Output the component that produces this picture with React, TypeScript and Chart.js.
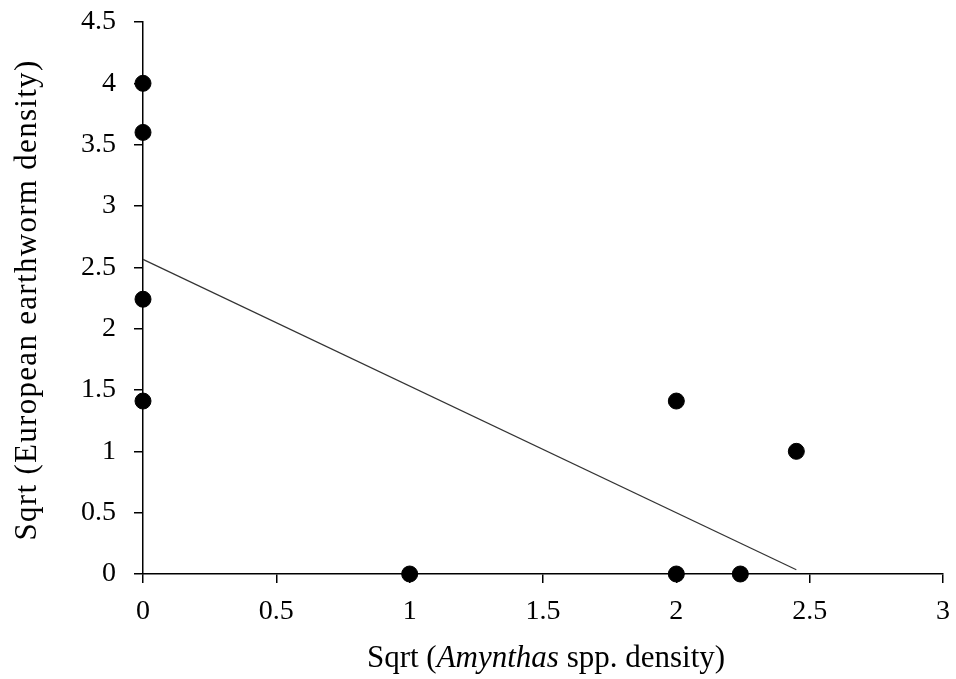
import React, { useEffect, useRef } from "react";
import { Chart, registerables } from "chart.js";

Chart.register(...registerables);

// Observed points: sqrt(Amynthas density) vs sqrt(European earthworm density)
const amynthasSqrt = [0, 0, 0, 0, 1, 2, 2.24, 2, 2.45];
const europeanSqrt = [4, 3.6, 2.24, 1.41, 0, 0, 0, 1.41, 1];

// Fitted regression line endpoints
const trendX = [0, 2.45];
const trendY = [2.565, 0.035];

const xTickLabels = ["0", "0.5", "1", "1.5", "2", "2.5", "3"];
const yTickLabels = ["0", "0.5", "1", "1.5", "2", "2.5", "3", "3.5", "4", "4.5"];

const xTitleParts = [
  { text: "Sqrt (", italic: false },
  { text: "Amynthas", italic: true },
  { text: " spp. density)", italic: false },
];
const yTitle = "Sqrt (European earthworm density)";

const FONT_FAMILY = "'Liberation Serif', 'Times New Roman', serif";
const FONT_SIZE = 28;
const TITLE_SIZE = 31;

const titlesPlugin = {
  id: "axisTitles",
  afterDraw(chart: any) {
    const ctx = chart.ctx;
    const area = chart.chartArea;
    ctx.save();
    ctx.fillStyle = "#000";
    ctx.textBaseline = "alphabetic";
    // x title with mixed italic
    const fonts = xTitleParts.map(
      (p) => `${p.italic ? "italic " : ""}${TITLE_SIZE}px ${FONT_FAMILY}`
    );
    let total = 0;
    const widths = xTitleParts.map((p, i) => {
      ctx.font = fonts[i];
      const w = ctx.measureText(p.text).width;
      total += w;
      return w;
    });
    let x = 546 - total / 2;
    const y = 667;
    xTitleParts.forEach((p, i) => {
      ctx.font = fonts[i];
      ctx.textAlign = "left";
      ctx.fillText(p.text, x, y);
      x += widths[i];
    });
    // y title rotated
    ctx.font = `${TITLE_SIZE}px ${FONT_FAMILY}`;
    try {
      (ctx as any).letterSpacing = "1.3px";
    } catch (e) {}
    ctx.translate(36, 300);
    ctx.rotate(-Math.PI / 2);
    ctx.textAlign = "center";
    ctx.fillText(yTitle, 0, 0);
    ctx.restore();
  },
};

export default function App() {
  const ref = useRef<HTMLCanvasElement | null>(null);
  useEffect(() => {
    if (!ref.current) return;
    const points = amynthasSqrt.map((v, i) => ({ x: v, y: europeanSqrt[i] }));
    const line = trendX.map((v, i) => ({ x: v, y: trendY[i] }));
    const chart = new Chart(ref.current, {
      type: "scatter",
      data: {
        datasets: [
          {
            label: "Fit",
            data: line,
            showLine: true,
            borderColor: "#333",
            borderWidth: 1.2,
            pointRadius: 0,
            clip: false as any,
          } as any,
          {
            label: "Observed",
            data: points,
            backgroundColor: "#000",
            borderColor: "#000",
            pointRadius: 8,
            pointHoverRadius: 8,
            clip: false as any,
          } as any,
        ],
      },
      options: {
        animation: false,
        responsive: false,
        maintainAspectRatio: false,
        layout: { padding: { top: 22, right: 13, left: 0, bottom: 0 } },
        plugins: {
          legend: { display: false },
          tooltip: { enabled: false },
        },
        scales: {
          x: {
            type: "linear",
            min: 0,
            max: 3,
            afterFit: (s: any) => {
              s.height = 105;
              s.paddingLeft = 0;
              s.paddingRight = 0;
            },
            ticks: {
              stepSize: 0.5,
              padding: 12,
              color: "#000",
              font: { family: FONT_FAMILY, size: FONT_SIZE },
              maxRotation: 0,
              callback: (_v: any, i: number) => xTickLabels[i],
            },
            grid: {
              drawOnChartArea: false,
              drawTicks: true,
              tickLength: 9,
              color: "#000",
              lineWidth: 1.5,
            },
            border: { display: true, color: "#000", width: 1.5 },
          },
          y: {
            type: "linear",
            min: 0,
            max: 4.5,
            afterFit: (s: any) => {
              s.width = 143;
              s.paddingTop = 0;
              s.paddingBottom = 0;
            },
            ticks: {
              stepSize: 0.5,
              padding: 18,
              color: "#000",
              font: { family: FONT_FAMILY, size: FONT_SIZE },
              callback: (_v: any, i: number) => yTickLabels[i],
            },
            grid: {
              drawOnChartArea: false,
              drawTicks: true,
              tickLength: 9,
              color: "#000",
              lineWidth: 1.5,
            },
            border: { display: true, color: "#000", width: 1.5 },
          },
        },
      },
      plugins: [titlesPlugin],
    });
    return () => chart.destroy();
  }, []);
  return (
    <div style={{ position: "fixed", left: 0, top: 0, width: 956, height: 679, background: "#fff" }}>
      <canvas ref={ref} width={956} height={679} style={{ display: "block" }} />
    </div>
  );
}
